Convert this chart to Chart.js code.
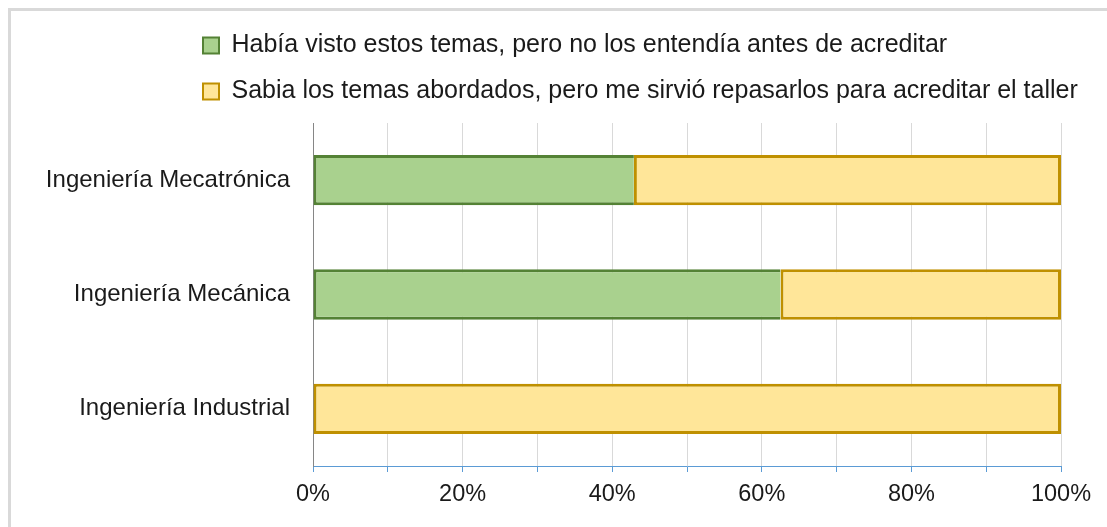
<!DOCTYPE html>
<html>
<head>
<meta charset="utf-8">
<script src="https://cdn.jsdelivr.net/npm/chart.js@4.4.0/dist/chart.umd.min.js"></script>
<style>
  html, body { margin: 0; padding: 0; background: #fff; overflow: hidden; width: 1107px; height: 527px; }
  #caja { position: absolute; left: 0; top: 0; width: 1107px; height: 527px; }
</style>
</head>
<body>
<div id="caja"><canvas id="grafico" width="1107" height="527"></canvas></div>
<script>
// Datos del gráfico
const carreras = ['Ingeniería Mecatrónica', 'Ingeniería Mecánica', 'Ingeniería Industrial'];
const series = [
    'Había visto estos temas, pero no los entendía antes de acreditar',
    'Sabia los temas abordados, pero me sirvió repasarlos para acreditar el taller'
];
const noEntendia = [42.9, 62.5, 0];
const repasar = [57.1, 37.5, 100];
const etiquetasX = ['0%', '', '20%', '', '40%', '', '60%', '', '80%', '', '100%'];

const fuente = "'Liberation Sans', Arial, sans-serif";
const ctx = document.getElementById('grafico').getContext('2d');

// Marco gris arriba y a la izquierda
const marco = {
    id: 'marco',
    beforeDraw(chart) {
        const c = chart.ctx;
        c.save();
        c.fillStyle = '#d9d9d9';
        c.fillRect(8, 8, chart.width - 8, 3);
        c.fillRect(8, 8, 3, chart.height - 8);
        c.restore();
    }
};

// Leyenda: espacio extra abajo y alineada sobre el gráfico
const ajusteLeyenda = {
    id: 'ajusteLeyenda',
    afterInit(chart) {
        const fitOriginal = chart.legend.fit;
        chart.legend.fit = function () {
            fitOriginal.call(this);
            this.height += 9;
        };
    },
    beforeDraw(chart) {
        chart.legend.left = 182;
    }
};

new Chart(ctx, {
    type: 'bar',
    data: {
        labels: carreras,
        datasets: [{
            label: series[0],
            data: noEntendia,
            backgroundColor: '#a9d18e',
            borderColor: '#548235',
            borderWidth: { left: 3, top: 3, bottom: 3, right: 0 },
            borderSkipped: false
        }, {
            label: series[1],
            data: repasar,
            backgroundColor: '#ffe699',
            borderColor: '#bf9000',
            borderWidth: 3,
            borderSkipped: false
        }]
    },
    plugins: [marco, ajusteLeyenda],
    options: {
        indexAxis: 'y',
        responsive: false,
        animation: false,
        categoryPercentage: 1,
        barPercentage: 0.44,
        layout: { padding: { left: 0, right: 0, top: 12, bottom: 0 } },
        plugins: {
            tooltip: { enabled: false },
            legend: {
                position: 'top',
                align: 'start',
                labels: {
                    color: '#1a1a1a',
                    font: { family: fuente, size: 25 },
                    boxWidth: 16,
                    boxHeight: 16,
                    padding: 21,
                    generateLabels: chart =>
                        Chart.defaults.plugins.legend.labels.generateLabels(chart)
                            .map(l => ({ ...l, lineWidth: 2 }))
                }
            }
        },
        scales: {
            x: {
                stacked: true,
                min: 0,
                max: 100,
                ticks: {
                    stepSize: 10,
                    autoSkip: false,
                    maxRotation: 0,
                    padding: 8,
                    color: '#1a1a1a',
                    font: { family: fuente, size: 23.5 },
                    callback: (v, i) => etiquetasX[i]
                },
                grid: {
                    color: c => c.index === 0 ? 'rgba(0,0,0,0)' : '#d9d9d9',
                    tickColor: '#5b9bd5',
                    tickLength: 6,
                    lineWidth: 1
                },
                border: { color: '#5b9bd5', width: 1 },
                afterFit: s => { s.height = 61; s.paddingRight = 46; }
            },
            y: {
                stacked: true,
                ticks: {
                    padding: 23,
                    color: '#1a1a1a',
                    font: { family: fuente, size: 24 }
                },
                grid: { color: 'rgba(0,0,0,0)', drawTicks: false },
                border: { color: '#868686', width: 1 },
                afterFit: s => { s.width = 313; }
            }
        }
    }
});
</script>
</body>
</html>
